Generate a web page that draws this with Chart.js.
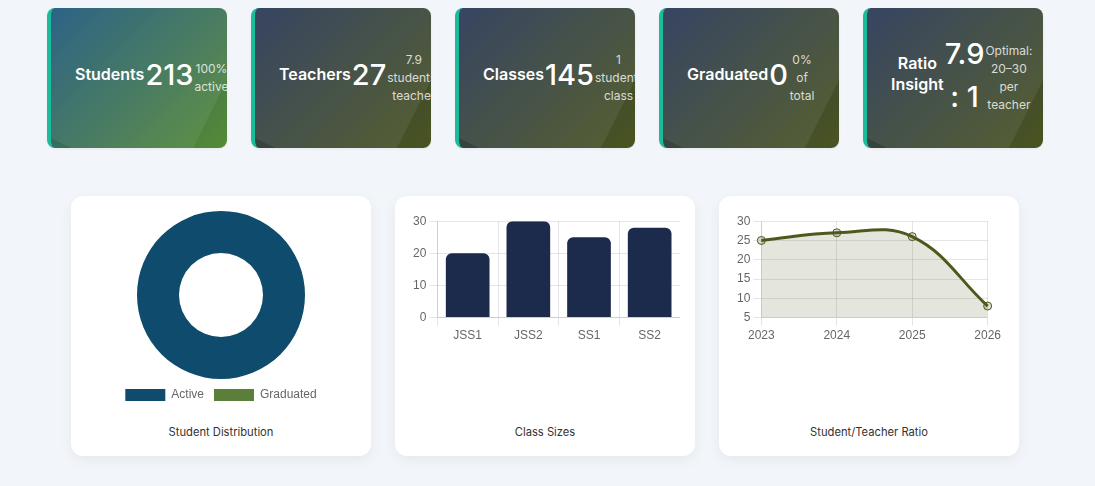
<!DOCTYPE html>
<html>
<head>
<meta charset="utf-8">
<script src="https://cdn.jsdelivr.net/npm/chart.js@4.4.1/dist/chart.umd.min.js"></script>
<style>
  html, body { margin:0; padding:0; background:#f2f5fa; }
  body { width:1090px; height:486px; overflow:hidden; font-family: Inter, "Noto Sans", sans-serif; }
  .kpis { display:flex; justify-content:center; gap:24px; padding-top:8px; }
  .kpi { position:relative; width:180px; height:140px; box-sizing:border-box; border-left:4px solid #1abc9c;
         border-radius:8px; padding:0 24px; display:flex; align-items:center; gap:0; overflow:hidden; color:#fff;
         background:linear-gradient(135deg, #283756 0%, #4a5420 100%); box-shadow:0 1px 3px rgba(0,0,0,0.06); }
  .kpi.first { background:linear-gradient(135deg, #1d577e 0%, #568a34 100%); }
  .kpi::before { content:""; position:absolute; left:0; top:0; right:0; bottom:0;
         background:rgba(255,255,255,0.07);
         clip-path: polygon(0 0, 100% 0, 100% 72px, 142px 100%, 20px 100%, 0 130px); }
  .kpi > div { position:relative; text-align:center; }
  .kpi .label { font-size:16px; font-weight:600; line-height:1.3; margin-bottom:8px; }
  .kpi .value { font-size:29px; font-weight:500; line-height:1.45; margin-bottom:5px; margin-left:1px; }
  .kpi .sub { font-size:12px; line-height:1.5; color:rgba(255,255,255,0.8); margin-left:1px; }
  .charts { display:flex; justify-content:center; gap:24px; margin-top:48px; }
  .card { width:300px; box-sizing:border-box; background:#fff; border-radius:12px; padding:15px 15px 15px 15px;
          box-shadow:0 4px 14px rgba(0,0,0,0.06); }
  .box { height:200px; position:relative; }
  .cap { margin-top:12px; font-size:11.2px; line-height:18px; color:#333; text-align:center; }
</style>
</head>
<body>
<div class="kpis" id="kpis"></div>
<div class="charts">
  <div class="card"><div class="box"><div style="width:270px;height:200px"><canvas id="c1"></canvas></div></div><div class="cap">Student Distribution</div></div>
  <div class="card"><div class="box"><div style="width:270px;height:135px"><canvas id="c2"></canvas></div></div><div class="cap">Class Sizes</div></div>
  <div class="card"><div class="box"><div style="width:270px;height:135px"><canvas id="c3"></canvas></div></div><div class="cap">Student/Teacher Ratio</div></div>
</div>
<script>
// KPI texts
const kpiLabels = ['Students', 'Teachers', 'Classes', 'Graduated', 'Ratio Insight'];
const kpiValues = ['213', '27', '145', '0', '7.9 : 1'];
const kpiSubs = ['100% active', '7.9 students/\u200Bteacher', '1 student/\u200Bclass', '0% of total', 'Optimal: 20–30 per teacher'];

// Chart data
const distLabels = ['Active', 'Graduated'];
const distValues = [213, 0];
const classLabels = ['JSS1', 'JSS2', 'SS1', 'SS2'];
const classSizes = [20, 30, 25, 28];
const years = ['2023', '2024', '2025', '2026'];
const ratios = [25, 27, 26, 8];

const wrap = document.getElementById('kpis');
kpiLabels.forEach((l, i) => {
  const d = document.createElement('div');
  d.className = 'kpi' + (i === 0 ? ' first' : '');
  d.innerHTML = '<div class="label"></div><div class="value"></div><div class="sub"></div>';
  d.querySelector('.label').textContent = l;
  d.querySelector('.value').textContent = kpiValues[i];
  d.querySelector('.sub').textContent = kpiSubs[i];
  wrap.appendChild(d);
});

Chart.defaults.animation = false;
Chart.defaults.color = '#666';

new Chart(document.getElementById('c1'), {
  type: 'doughnut',
  data: { labels: distLabels, datasets: [{ data: distValues, backgroundColor: ['#0e4b6d', '#5b7f3a'], borderWidth: 0 }] },
  options: { responsive: true, maintainAspectRatio: false, cutout: '50%',
    plugins: { legend: { position: 'bottom' }, tooltip: { enabled: false } } }
});

new Chart(document.getElementById('c2'), {
  type: 'bar',
  data: { labels: classLabels, datasets: [{ data: classSizes, backgroundColor: '#1c2a4b', borderRadius: 6 }] },
  options: { responsive: true, maintainAspectRatio: false,
    plugins: { legend: { display: false }, tooltip: { enabled: false } },
    scales: { y: { min: 0, max: 30, ticks: { stepSize: 10 } } } }
});

new Chart(document.getElementById('c3'), {
  type: 'line',
  data: { labels: years, datasets: [{ data: ratios, borderColor: '#4b5a1c', borderWidth: 3, tension: 0.4, fill: true,
    backgroundColor: 'rgba(75,90,28,0.15)', pointRadius: 4, pointBackgroundColor: 'rgba(75,90,28,0.2)',
    pointBorderColor: '#4b5a1c', pointBorderWidth: 1 }] },
  options: { responsive: true, maintainAspectRatio: false,
    plugins: { legend: { display: false }, tooltip: { enabled: false } },
    scales: { y: { min: 5, max: 30, ticks: { stepSize: 5 } } } }
});
</script>
</body>
</html>
